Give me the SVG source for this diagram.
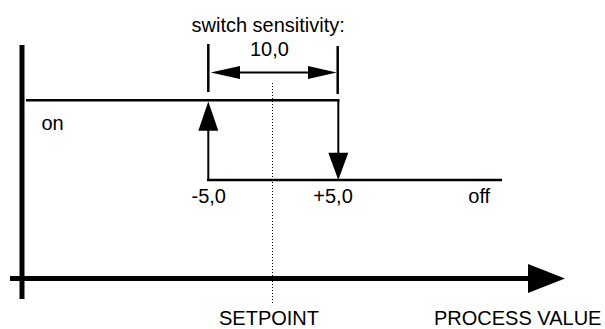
<svg xmlns="http://www.w3.org/2000/svg" width="605" height="329" viewBox="0 0 605 329">
<style>
  text { font-family: "Liberation Sans", Arial, sans-serif; font-size: 20px; fill: #000; }
  .axis { stroke: #000; stroke-width: 5; fill: none; }
  .ln { stroke: #000; stroke-width: 2.5; fill: none; }
  .thin { stroke: #000; stroke-width: 2; fill: none; }
  .dot { stroke: #000; stroke-width: 1; stroke-dasharray: 1 2; fill: none; }
  .head { fill: #000; stroke: none; }
</style>
<rect width="605" height="329" fill="#fff"/>
<g id="axes">
  <line class="axis" x1="22" y1="45" x2="22" y2="299"/>
  <line class="axis" x1="10" y1="278.5" x2="530" y2="278.5"/>
  <polygon class="head" points="528,264 528,293 565,278.5"/>
</g>
<g id="setpoint-line">
  <line class="dot" x1="272.5" y1="83" x2="272.5" y2="305"/>
</g>
<g id="hysteresis">
  <line class="ln" x1="26" y1="100.3" x2="339.5" y2="100.3"/>
  <line class="ln" x1="207" y1="180" x2="502" y2="180"/>
  <line class="thin" x1="208.3" y1="181" x2="208.3" y2="128"/>
  <polygon class="head" points="198.3,130.7 218.3,130.7 208.3,101.5"/>
  <line class="thin" x1="338.3" y1="100" x2="338.3" y2="155"/>
  <polygon class="head" points="328.3,152.7 348.3,152.7 338.3,180"/>
</g>
<g id="dimension">
  <line class="ln" x1="208.3" y1="44" x2="208.3" y2="92"/>
  <line class="ln" x1="337.7" y1="46" x2="337.7" y2="94"/>
  <line class="thin" x1="238" y1="72.5" x2="310" y2="72.5"/>
  <polygon class="head" points="210.7,72.5 240,66 240,79"/>
  <polygon class="head" points="336.7,72.5 308,66 308,79"/>
</g>
<g id="labels">
  <text x="191.5" y="31.5">switch sensitivity:</text>
  <text x="250" y="56">10,0</text>
  <text x="41.5" y="130">on</text>
  <text x="191.5" y="203.3">-5,0</text>
  <text x="313.3" y="203.3">+5,0</text>
  <text x="468.3" y="203.3">off</text>
  <text x="219" y="325">SETPOINT</text>
  <text x="434" y="325">PROCESS VALUE</text>
</g>
</svg>
